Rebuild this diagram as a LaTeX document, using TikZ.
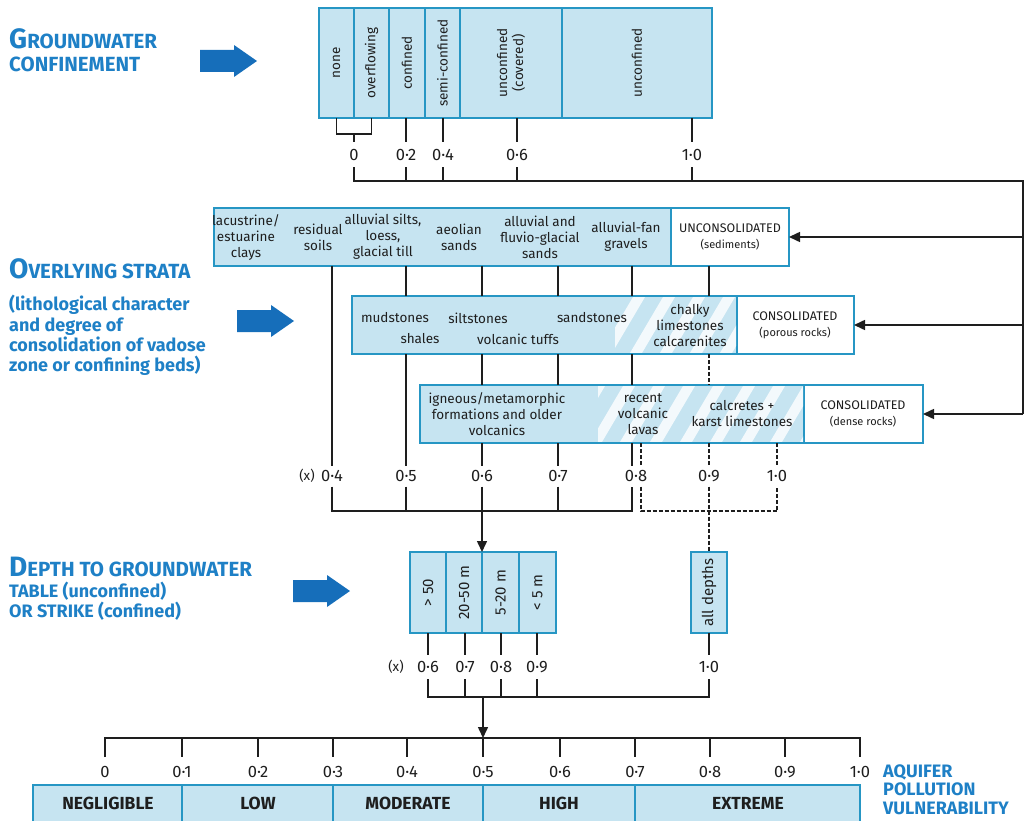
\documentclass[tikz,border=0pt]{standalone}
\usepackage{fontspec}
\setmainfont{Fira Sans}
\usetikzlibrary{arrows.meta}
\definecolor{cellfill}{RGB}{198,228,241}
\definecolor{cellline}{RGB}{38,150,196}
\definecolor{titleblue}{RGB}{30,128,198}
\definecolor{arrowblue}{RGB}{22,110,186}
\definecolor{ink}{RGB}{30,30,30}
\newcommand{\myfs}[2]{\fontsize{#1}{#2}\selectfont}
\newcommand{\subfs}{\fontsize{11}{13}\selectfont}
\begin{document}
\begin{tikzpicture}[x=1pt,y=-1pt,
  cell/.style={draw=cellline,fill=cellfill,line width=1.8pt,inner sep=0pt,outer sep=0pt,anchor=north west},
  wcell/.style={cell,fill=white},
  txt/.style={font=\myfs{13.5}{16},text=ink,align=center,inner sep=0pt},
  vtxt/.style={txt,rotate=90},
  dtxt/.style={vtxt,font=\myfs{15}{17}},
  captxt/.style={txt,font=\myfs{12.5}{16}},
  num/.style={font=\myfs{16.5}{17},text=ink,inner sep=0pt,outer sep=0pt},
  xlbl/.style={font=\myfs{13.5}{16},text=ink,inner sep=0pt},
  conn/.style={draw=ink,line width=1.5pt},
  dconn/.style={conn,dash pattern=on 4pt off 2pt},
  arr/.style={conn,-{Triangle[length=11pt,width=10pt]}},
  ttl/.style={text=titleblue,font=\bfseries,anchor=base west,inner sep=0pt},
  bigarrow/.style={fill=arrowblue,draw=none},
  catl/.style={font=\bfseries\myfs{17.5}{18},text=ink,inner sep=0pt},
  stripe/.style={fill=white,opacity=0.8},
]
\useasboundingbox (0,0) rectangle (1026,821);

% ---------- titles and big arrows ----------
\node[ttl] (tGW1) at (9,49) {\myfs{28}{28}G\myfs{20.5}{22}ROUNDWATER};
\node[ttl] (tGW2) at (9,72) {\myfs{20.5}{22}CONFINEMENT};
\fill[bigarrow] (200,50) -- (234,50) -- (234,45) -- (257,61) -- (234,77) -- (234,72) -- (200,72) -- cycle;

\node[ttl] (tOS1) at (9,279) {\myfs{28}{28}O\myfs{20.5}{22}VERLYING STRATA};
\node[ttl] (tOS2) at (9,311) {\myfs{18}{20}(lithological character};
\node[ttl] (tOS3) at (9,331) {\myfs{18}{20}and degree of};
\node[ttl] (tOS4) at (9,351) {\myfs{18}{20}consolidation of vadose};
\node[ttl] (tOS5) at (9,371) {\myfs{18}{20}zone or confining beds)};
\fill[bigarrow] (237,310) -- (271,310) -- (271,305) -- (294,321) -- (271,337) -- (271,332) -- (237,332) -- cycle;

\node[ttl] (tDG1) at (9,576) {\myfs{28}{28}D\myfs{20.5}{22}EPTH TO GROUNDWATER};
\node[ttl] (tDG2) at (9,597) {\myfs{18}{20}TABLE (unconfined)};
\node[ttl] (tDG3) at (9,617) {\myfs{18}{20}OR STRIKE (confined)};
\fill[bigarrow] (293,580) -- (327,580) -- (327,575) -- (350,591) -- (327,607) -- (327,602) -- (293,602) -- cycle;

\node[ttl] (tAPV1) at (883,777) {\myfs{18}{18}AQUIFER};
\node[ttl] (tAPV2) at (883,795) {\myfs{18}{18}POLLUTION};
\node[ttl] (tAPV3) at (883,814) {\myfs{18}{18}VULNERABILITY};

% ---------- groundwater confinement box ----------
\node[cell,minimum width=35pt,minimum height=110pt] (cNone) at (319,8) {};
\node[cell,minimum width=35pt,minimum height=110pt] (cOver) at (354,8) {};
\node[cell,minimum width=36pt,minimum height=110pt] (cConf) at (389,8) {};
\node[cell,minimum width=35pt,minimum height=110pt] (cSemi) at (425,8) {};
\node[cell,minimum width=102pt,minimum height=110pt] (cUncC) at (460,8) {};
\node[cell,minimum width=150pt,minimum height=110pt] (cUnc) at (562,8) {};
\node[vtxt] (tNone) at (cNone.center) {none};
\node[vtxt] (tOver) at (cOver.center) {overflowing};
\node[vtxt] (tConf) at (cConf.center) {confined};
\node[vtxt] (tSemi) at (cSemi.center) {semi-confined};
\node[vtxt] (tUncC) at (cUncC.center) {unconfined\\(covered)};
\node[vtxt] (tUnc) at (cUnc.center) {unconfined};

\node[num,minimum height=25pt] (g0) at (354,155) {0};
\node[num,minimum height=25pt] (g02) at (406,155) {0·2};
\node[num,minimum height=25pt] (g04) at (443,155) {0·4};
\node[num,minimum height=25pt] (g06) at (517,155) {0·6};
\node[num,minimum height=25pt] (g10) at (692,155) {1·0};

% ---------- overlying strata boxes ----------
\node[cell,minimum width=457pt,minimum height=58pt] (b2) at (214,208) {};
\node[wcell,minimum width=118pt,minimum height=58pt] (b2w) at (671,208) {};
\node[cell,minimum width=385pt,minimum height=58pt] (b3) at (352,296) {};
\node[wcell,minimum width=117pt,minimum height=58pt] (b3w) at (737,296) {};
\node[cell,minimum width=384pt,minimum height=58pt] (b4) at (420,385) {};
\node[wcell,minimum width=119pt,minimum height=58pt] (b4w) at (804,385) {};

\begin{scope}
  \clip (615,297.5) rectangle (736,352.5);
  \foreach \s in {540,570,...,750}
    \fill[stripe] (\s,353) -- (\s+12,353) -- (\s+45,297) -- (\s+33,297) -- cycle;
\end{scope}
\begin{scope}
  \clip (598,386.5) rectangle (803,441.5);
  \foreach \s in {530,560,...,810}
    \fill[stripe] (\s,442) -- (\s+12,442) -- (\s+45,386) -- (\s+33,386) -- cycle;
\end{scope}

\node[txt] (tLac) at (246,237) {lacustrine/\\estuarine\\clays};
\node[txt] (tRes) at (318,237) {residual\\soils};
\node[txt] (tAll) at (383,237) {alluvial silts,\\loess,\\glacial till};
\node[txt] (tAeo) at (459,237) {aeolian\\sands};
\node[txt] (tFlu) at (540,237) {alluvial and\\fluvio-glacial\\sands};
\node[txt] (tFan) at (626,237) {alluvial-fan\\gravels};
\node[captxt] (tUcs) at (730,237) {UNCONSOLIDATED\\{\subfs (sediments)}};

\node[txt] (tMud) at (395,318) {mudstones};
\node[txt] (tSil) at (478,318) {siltstones};
\node[txt] (tSan) at (592,318) {sandstones};
\node[txt] (tSha) at (420,339) {shales};
\node[txt] (tTuf) at (518,339) {volcanic tuffs};
\node[txt] (tChk) at (690,326) {chalky\\limestones\\calcarenites};
\node[captxt] (tCpr) at (795,325) {CONSOLIDATED\\{\subfs (porous rocks)}};

\node[txt] (tIgn) at (497,414) {igneous/metamorphic\\formations and older\\volcanics};
\node[txt] (tLav) at (643,414) {recent\\volcanic\\lavas};
\node[txt] (tCal) at (742,414) {calcretes +\\karst limestones};
\node[captxt] (tCdr) at (863,414) {CONSOLIDATED\\{\subfs (dense rocks)}};

\node[xlbl] (oX) at (307,476) {(x)};
\node[num,minimum height=21pt] (o04) at (332,476) {0·4};
\node[num,minimum height=21pt] (o05) at (406,476) {0·5};
\node[num,minimum height=21pt] (o06) at (482,476) {0·6};
\node[num,minimum height=21pt] (o07) at (558,476) {0·7};
\node[num,minimum height=21pt] (o08) at (636,476) {0·8};
\node[num,minimum height=21pt] (o09) at (709,476) {0·9};
\node[num,minimum height=21pt] (o10) at (777,476) {1·0};
\coordinate (x8s) at (632,476);
\coordinate (x8d) at (641,476);

% ---------- depth boxes ----------
\node[cell,minimum width=36pt,minimum height=81pt] (d1) at (410,552) {};
\node[cell,minimum width=36pt,minimum height=81pt] (d2) at (446,552) {};
\node[cell,minimum width=37pt,minimum height=81pt] (d3) at (482,552) {};
\node[cell,minimum width=37pt,minimum height=81pt] (d4) at (519,552) {};
\node[cell,minimum width=36pt,minimum height=81pt] (dAll) at (691,552) {};
\node[dtxt] (tD1) at (d1.center) {> 50};
\node[dtxt] (tD2) at (d2.center) {20-50 m};
\node[dtxt] (tD3) at (d3.center) {5-20 m};
\node[dtxt] (tD4) at (d4.center) {< 5 m};
\node[dtxt] (tDA) at (dAll.center) {all depths};

\node[xlbl] (dX) at (396,667) {(x)};
\node[num,minimum height=24pt] (d06) at (428,667) {0·6};
\node[num,minimum height=24pt] (d07) at (465,667) {0·7};
\node[num,minimum height=24pt] (d08) at (501,667) {0·8};
\node[num,minimum height=24pt] (d09) at (537,667) {0·9};
\node[num,minimum height=24pt] (d10) at (709,667) {1·0};

% ---------- vulnerability scale ----------
\node[num,minimum height=30pt] (v0) at (105,772) {0};
\node[num,minimum height=30pt] (v01) at (182,772) {0·1};
\node[num,minimum height=30pt] (v02) at (258,772) {0·2};
\node[num,minimum height=30pt] (v03) at (333,772) {0·3};
\node[num,minimum height=30pt] (v04) at (407,772) {0·4};
\node[num,minimum height=30pt] (v05) at (483,772) {0·5};
\node[num,minimum height=30pt] (v06) at (560,772) {0·6};
\node[num,minimum height=30pt] (v07) at (635,772) {0·7};
\node[num,minimum height=30pt] (v08) at (710,772) {0·8};
\node[num,minimum height=30pt] (v09) at (785,772) {0·9};
\node[num,minimum height=30pt] (v10) at (860,772) {1·0};

\node[cell,minimum width=149pt,minimum height=50pt] (kNeg) at (33,785) {};
\node[cell,minimum width=151pt,minimum height=50pt] (kLow) at (182,785) {};
\node[cell,minimum width=150pt,minimum height=50pt] (kMod) at (333,785) {};
\node[cell,minimum width=152pt,minimum height=50pt] (kHigh) at (483,785) {};
\node[cell,minimum width=225pt,minimum height=50pt] (kExt) at (635,785) {};
\node[catl] (tNeg) at (108,803) {NEGLIGIBLE};
\node[catl] (tLow) at (258,803) {LOW};
\node[catl] (tMod) at (408,803) {MODERATE};
\node[catl] (tHigh) at (559,803) {HIGH};
\node[catl] (tExt) at (748,803) {EXTREME};

% ---------- connectors: confinement ----------
\coordinate (gbr) at (354,134);
\draw[conn] (cNone.south) |- (gbr) -| (cOver.south);
\draw[conn] (gbr) -- (g0.north);
\draw[conn] (cConf.south -| g02) -- (g02.north);
\draw[conn] (cSemi.south -| g04) -- (g04.north);
\draw[conn] (cUncC.south -| g06) -- (g06.north);
\draw[conn] (cUnc.south -| g10) -- (g10.north);
\coordinate (rail) at (1023,181);
\draw[conn] (g0.south) |- (rail) -- (rail |- b4w.east);
\foreach \n in {g02,g04,g06,g10} \draw[conn] (\n.south) -- (\n.south |- rail);
\draw[arr] (rail |- b2w.east) -- (b2w.east);
\draw[arr] (rail |- b3w.east) -- (b3w.east);
\draw[arr] (rail |- b4w.east) -- (b4w.east);

% ---------- connectors: overlying strata ----------
\draw[conn] (b2.south -| o04) -- (o04.north);
\draw[conn] (b2.south -| o05) -- (b3.north -| o05);
\draw[conn] (b3.south -| o05) -- (o05.north);
\foreach \n in {o06,o07} {
  \draw[conn] (b2.south -| \n) -- (b3.north -| \n);
  \draw[conn] (b3.south -| \n) -- (b4.north -| \n);
  \draw[conn] (b4.south -| \n) -- (\n.north);
}
\draw[conn] (b2.south -| x8s) -- (b3.north -| x8s);
\draw[conn] (b3.south -| x8s) -- (b4.north -| x8s);
\draw[conn] (b4.south -| x8s) -- (x8s |- o08.north);
\draw[conn] (b2w.south -| o09) -- (b3.north -| o09);
\draw[dconn] (b3.south -| o09) -- (b4.north -| o09);
\draw[dconn] (b4.south -| o09) -- (o09.north);
\draw[dconn] (b4.south -| x8d) -- (x8d |- o08.north);
\draw[dconn] (b4.south -| o10) -- (o10.north);

\coordinate (obus) at (0,511);
\draw[conn] (o04.south) |- (x8s |- obus) -- (x8s |- o08.south);
\foreach \n in {o05,o06,o07} \draw[conn] (\n.south) -- (\n.south |- obus);
\draw[dconn] (x8d |- o08.south) |- (o10.south |- obus) -- (o10.south);
\draw[dconn] (o09.south) -- (dAll.north);
\draw[arr] (o06.south |- obus) -- (d3.north west);

% ---------- connectors: depth ----------
\draw[conn] (d1.south -| d06) -- (d06.north);
\draw[conn] (d2.south -| d07) -- (d07.north);
\draw[conn] (d3.south -| d08) -- (d08.north);
\draw[conn] (d4.south -| d09) -- (d09.north);
\draw[conn] (dAll.south -| d10) -- (d10.north);
\coordinate (dbus) at (0,697);
\draw[conn] (d06.south) |- (d10.south |- dbus) -- (d10.south);
\foreach \n in {d07,d08,d09} \draw[conn] (\n.south) -- (\n.south |- dbus);
\coordinate (sbar) at (0,738);
\draw[arr] (v05 |- dbus) -- (v05 |- sbar);

% ---------- scale ----------
\draw[conn] (v0.north) |- (v10.north |- sbar) -- (v10.north);
\foreach \n in {v01,v02,v03,v04,v05,v06,v07,v08,v09} \draw[conn] (\n.north |- sbar) -- (\n.north);
\end{tikzpicture}
\end{document}
